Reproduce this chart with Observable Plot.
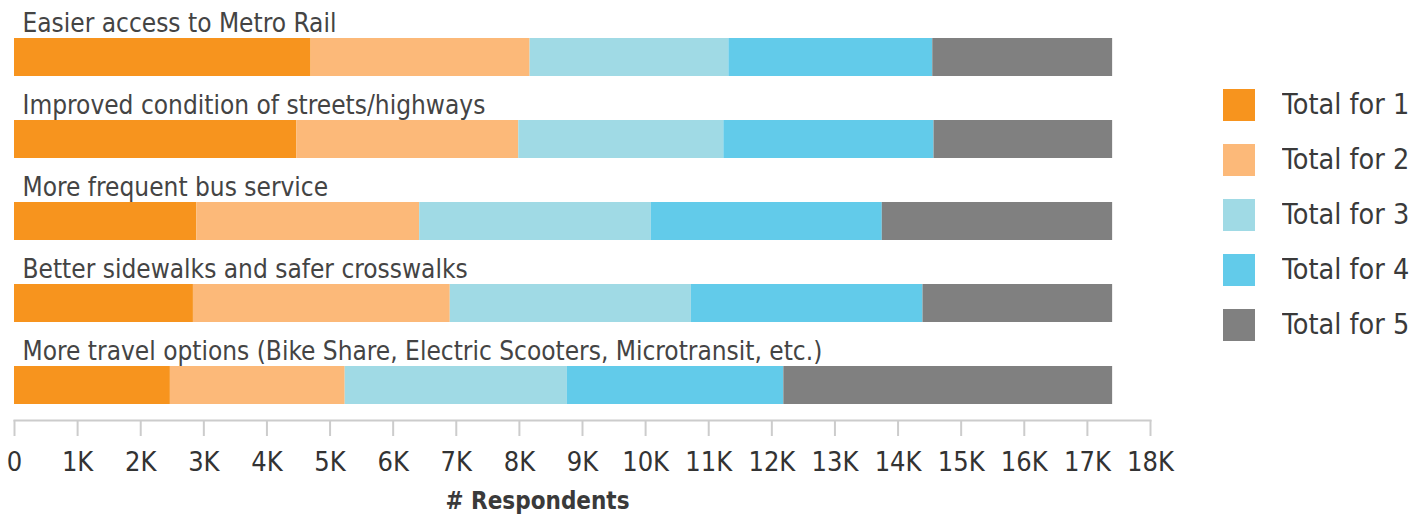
<!DOCTYPE html>
<html>
<head>
<meta charset="utf-8">
<script src="https://cdn.jsdelivr.net/npm/d3@7"></script>
<script src="https://cdn.jsdelivr.net/npm/@observablehq/plot@0.6"></script>
<style>
  html, body { margin: 0; padding: 0; background: #fff; }
  #wrap { position: relative; width: 1423px; height: 514px; font-family: "DejaVu Sans Condensed", Roboto, sans-serif; }
  #chart { position: absolute; left: 0; top: 0; }
  #legend { position: absolute; left: 1223px; top: 89px; }
  #legend .lg-swatch { display: flex !important; align-items: center; height: 32px; margin: 0 0 23px 0 !important; padding: 0 !important; font-size: 28.5px; color: #3a3a3a; line-height: 32px; }
  #legend .lg-swatch svg { margin-right: 27px !important; }
  #legend .lg-swatches { font-family: "DejaVu Sans Condensed", Roboto, sans-serif; font-size: 28.5px; }
</style>
</head>
<body>
<div id="wrap"><div id="chart"></div><div id="legend"></div></div>
<script>
const categories = [
  "Easier access to Metro Rail",
  "Improved condition of streets/highways",
  "More frequent bus service",
  "Better sidewalks and safer crosswalks",
  "More travel options (Bike Share, Electric Scooters, Microtransit, etc.)"
];
const seriesNames = ["Total for 1", "Total for 2", "Total for 3", "Total for 4", "Total for 5"];
const colors = ["#F7941E", "#FCB979", "#A0DAE5", "#62CBEA", "#808080"];
const totalFor1 = [4700, 4475, 2890, 2835, 2470];
const totalFor2 = [3470, 3515, 3530, 4070, 2770];
const totalFor3 = [3150, 3250, 3670, 3820, 3520];
const totalFor4 = [3230, 3330, 3660, 3670, 3430];
const totalFor5 = [2850, 2830, 3650, 3005, 5210];
const xTicks = d3.range(0, 18001, 1000);
const tickLabel = d => d === 0 ? "0" : (d / 1000) + "K";
const axisTitle = "# Respondents";

const seriesValues = [totalFor1, totalFor2, totalFor3, totalFor4, totalFor5];
const rows = [];
categories.forEach((c, i) => {
  seriesNames.forEach((s, j) => rows.push({category: c, series: s, value: seriesValues[j][i]}));
});

const FONT = '"DejaVu Sans Condensed", Roboto, sans-serif';

const plot = Plot.plot({
  width: 1200,
  height: 514,
  marginLeft: 14,
  marginRight: 50,
  marginTop: 21,
  marginBottom: 94,
  style: {fontFamily: FONT, background: "transparent", overflow: "visible"},
  x: {domain: [0, 18000], axis: null},
  y: {domain: categories, axis: null, paddingInner: 0.541, paddingOuter: 0.181},
  color: {domain: seriesNames, range: colors},
  marks: [
    Plot.barX(rows, Plot.stackX({order: null}, {x: "value", y: "category", fill: "series", inset: 0})),
    Plot.text(categories, {x: 0, y: d => d, text: d => d, textAnchor: "start", lineAnchor: "bottom", dx: 8, dy: -26, fontSize: 26, fill: "#444"}),
    Plot.frame({anchor: "bottom", stroke: "#cccccc", strokeWidth: 2}),
    Plot.axisX({ticks: xTicks, tickFormat: tickLabel, tickSize: 16, tickPadding: 15, stroke: "#cccccc", strokeWidth: 2, fontSize: 27, color: "#333", label: null, anchor: "bottom"}),
    Plot.text([axisTitle], {frameAnchor: "bottom", text: d => d, lineAnchor: "bottom", dy: 88, dx: -45, fontSize: 24, fontWeight: "bold", fill: "#3a3a3a"})
  ]
});
document.getElementById("chart").appendChild(plot);

const legend = Plot.legend({
  color: {domain: seriesNames, range: colors},
  legend: "swatches",
  columns: 1,
  swatchSize: 32,
  className: "lg"
});
document.getElementById("legend").appendChild(legend);
</script>
</body>
</html>
